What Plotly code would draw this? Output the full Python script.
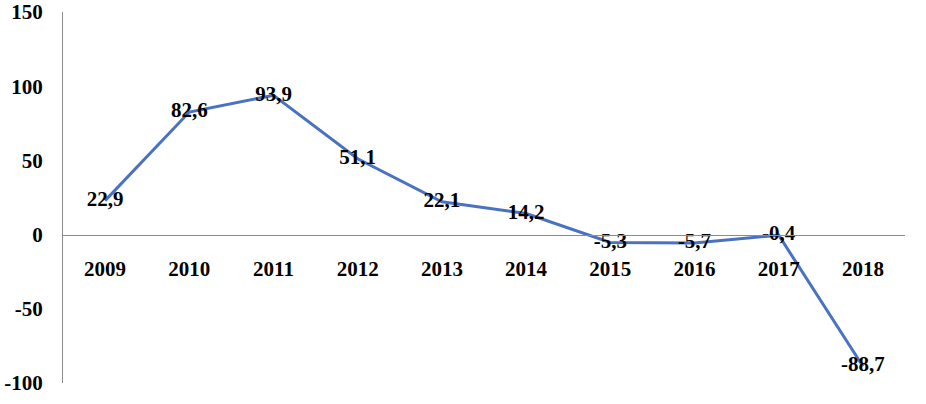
import plotly.graph_objects as go

years = ["2009", "2010", "2011", "2012", "2013", "2014", "2015", "2016", "2017", "2018"]
values = [22.9, 82.6, 93.9, 51.1, 22.1, 14.2, -5.3, -5.7, -0.4, -88.7]
y_ticks = [-100, -50, 0, 50, 100, 150]
y_tick_text = ["-100", "-50", "0", "50", "100", "150"]

labels = [f"{v:.1f}".replace(".", ",") for v in values]

FONT = "Liberation Serif, Times New Roman, serif"
LINE_COLOR = "#4a72c0"
AXIS_COLOR = "#8c8c8c"
FS = 21

y_min, y_max = -100, 150
zero_pos = (0 - y_min) / (y_max - y_min)

fig = go.Figure()
fig.add_trace(go.Scatter(
    x=years, y=values, mode="lines+text",
    line=dict(color=LINE_COLOR, width=3),
    text=labels, textposition="middle center",
    textfont=dict(family=FONT, size=FS, color="#000000", weight="bold"),
    cliponaxis=False, showlegend=False, hoverinfo="skip",
))

fig.update_layout(
    width=926, height=404,
    margin=dict(l=63, r=21, t=12, b=21),
    paper_bgcolor="white", plot_bgcolor="white",
    font=dict(family=FONT, size=FS, color="#000000", weight="bold"),
    xaxis=dict(
        type="category", range=[-0.5, 9.5],
        anchor="free", position=zero_pos,
        showline=True, linecolor=AXIS_COLOR, linewidth=1,
        showgrid=False, zeroline=False, ticks="",
        ticklabelstandoff=15, automargin=False,
        tickfont=dict(family=FONT, size=FS, color="#000000", weight="bold"),
    ),
    yaxis=dict(
        range=[y_min, y_max], tickvals=y_ticks, ticktext=y_tick_text,
        showline=True, linecolor=AXIS_COLOR, linewidth=1,
        showgrid=False, zeroline=False, ticks="",
        ticklabelstandoff=15, automargin=False,
        tickfont=dict(family=FONT, size=FS, color="#000000", weight="bold"),
    ),
)

fig.write_html(
    "out.html",
    config={"displayModeBar": False},
    post_script="document.body.style.margin='0';document.body.style.overflow='hidden';",
)
